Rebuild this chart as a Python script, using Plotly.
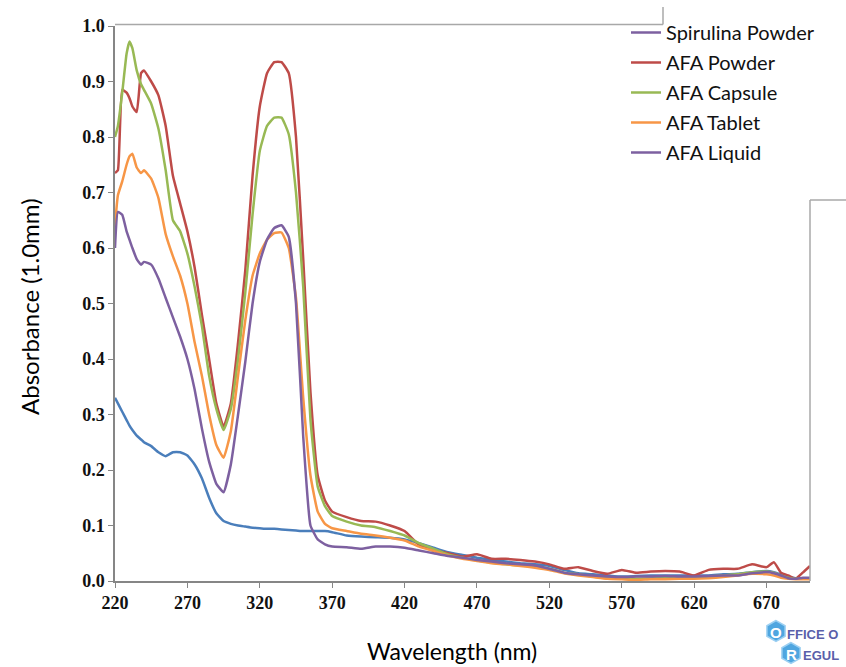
import plotly.graph_objects as go

wavelength = [220, 222, 225, 228, 230, 232, 235, 238, 240,
              245, 250, 255, 260, 265, 270, 275, 280, 285, 290, 295, 300,
              305, 310, 315, 320, 325, 330, 335, 340, 345, 350, 355, 360, 365, 370,
              380, 390, 400, 410, 420, 430, 440, 450, 460, 470, 480, 490, 500,
              510, 520, 530, 540, 550, 560, 570, 580, 590, 600, 610, 620, 630,
              640, 650, 660, 670, 675, 680, 685, 690, 695, 700]

spirulina_powder = [0.33, 0.32, 0.305, 0.29, 0.28, 0.272, 0.262, 0.255, 0.25,
                    0.243, 0.232, 0.225, 0.232, 0.232, 0.226, 0.21, 0.185, 0.15, 0.122, 0.108, 0.103,
                    0.1, 0.098, 0.096, 0.095, 0.094, 0.094, 0.093, 0.092, 0.091, 0.09, 0.09, 0.09, 0.09, 0.088,
                    0.082, 0.08, 0.079, 0.078, 0.075, 0.068, 0.06, 0.052, 0.047, 0.042, 0.038, 0.035, 0.032,
                    0.03, 0.027, 0.02, 0.014, 0.012, 0.01, 0.008, 0.009, 0.01, 0.01, 0.01, 0.01, 0.01,
                    0.012, 0.013, 0.016, 0.018, 0.016, 0.012, 0.008, 0.005, 0.005, 0.005]

afa_powder = [0.735, 0.74, 0.885, 0.88, 0.87, 0.855, 0.845, 0.915, 0.92,
              0.90, 0.875, 0.82, 0.73, 0.68, 0.63, 0.565, 0.48, 0.40, 0.32, 0.278, 0.32,
              0.43, 0.56, 0.73, 0.855, 0.915, 0.935, 0.935, 0.915, 0.80, 0.58, 0.34, 0.19, 0.145, 0.125,
              0.115, 0.108, 0.107, 0.10, 0.09, 0.065, 0.056, 0.05, 0.044, 0.048, 0.04, 0.04, 0.038,
              0.035, 0.03, 0.022, 0.025, 0.018, 0.013, 0.02, 0.015, 0.017, 0.018, 0.017, 0.01, 0.02,
              0.022, 0.022, 0.03, 0.025, 0.034, 0.015, 0.01, 0.004, 0.015, 0.027]

afa_capsule = [0.80, 0.82, 0.88, 0.95, 0.972, 0.96, 0.92, 0.895, 0.885,
               0.86, 0.815, 0.74, 0.65, 0.63, 0.59, 0.53, 0.46, 0.37, 0.31, 0.272, 0.31,
               0.40, 0.52, 0.66, 0.775, 0.82, 0.835, 0.835, 0.805, 0.70, 0.53, 0.29, 0.17, 0.135, 0.117,
               0.107, 0.10, 0.097, 0.09, 0.082, 0.068, 0.058, 0.048, 0.042, 0.037, 0.033, 0.03, 0.028,
               0.026, 0.022, 0.015, 0.012, 0.008, 0.005, 0.004, 0.004, 0.005, 0.006, 0.006, 0.006, 0.008,
               0.01, 0.012, 0.016, 0.017, 0.015, 0.01, 0.006, 0.004, 0.004, 0.004]

afa_tablet = [0.64, 0.695, 0.72, 0.75, 0.765, 0.77, 0.745, 0.735, 0.74,
              0.725, 0.69, 0.625, 0.585, 0.55, 0.50, 0.43, 0.37, 0.30, 0.245, 0.222, 0.27,
              0.37, 0.47, 0.55, 0.59, 0.615, 0.627, 0.628, 0.60, 0.51, 0.33, 0.19, 0.125, 0.103, 0.095,
              0.09, 0.085, 0.082, 0.078, 0.073, 0.062, 0.054, 0.046, 0.04, 0.036, 0.032, 0.03, 0.027,
              0.024, 0.02, 0.014, 0.01, 0.007, 0.004, 0.003, 0.002, 0.003, 0.003, 0.004, 0.004, 0.005,
              0.007, 0.01, 0.013, 0.012, 0.01, 0.006, 0.004, 0.003, 0.003, 0.003]

afa_liquid = [0.60, 0.665, 0.66, 0.63, 0.615, 0.60, 0.58, 0.57, 0.575,
              0.57, 0.545, 0.51, 0.475, 0.44, 0.40, 0.345, 0.275, 0.215, 0.175, 0.16, 0.21,
              0.30, 0.395, 0.50, 0.575, 0.615, 0.636, 0.641, 0.62, 0.50, 0.26, 0.10, 0.075, 0.066, 0.062,
              0.061, 0.058, 0.062, 0.062, 0.06, 0.055, 0.05, 0.045, 0.042, 0.038, 0.035, 0.032, 0.03,
              0.028, 0.022, 0.015, 0.012, 0.01, 0.008, 0.007, 0.008, 0.008, 0.009, 0.008, 0.008, 0.009,
              0.01, 0.01, 0.014, 0.016, 0.014, 0.01, 0.005, 0.004, 0.006, 0.006]

series_names = ["Spirulina Powder", "AFA Powder", "AFA Capsule", "AFA Tablet", "AFA Liquid"]
series_values = [spirulina_powder, afa_powder, afa_capsule, afa_tablet, afa_liquid]
colors = ["#4A7EBB", "#BE4B48", "#98B954", "#F79646", "#7D60A0"]
legend_colors = ["#7D60A0", "#BE4B48", "#98B954", "#F79646", "#7D60A0"]

x_ticks = [220, 270, 320, 370, 420, 470, 520, 570, 620, 670]
y_ticks = [0.0, 0.1, 0.2, 0.3, 0.4, 0.5, 0.6, 0.7, 0.8, 0.9, 1.0]

W, H = 846, 667
L, R, T, B = 115, 36, 26, 86
PW, PH = W - L - R, H - T - B


def px(x):
    return (x - L) / PW


def py(y):
    return (H - B - y) / PH


fig = go.Figure()
for name, vals, col in zip(series_names, series_values, colors):
    fig.add_trace(go.Scatter(
        x=wavelength, y=vals, name=name, mode="lines",
        line=dict(color=col, width=2.5, shape="spline", smoothing=0.4),
        legendgroup=name, showlegend=False,
    ))
# legend entries (legend swatch colors as in the reference)
for name, col in zip(series_names, legend_colors):
    fig.add_trace(go.Scatter(
        x=[None], y=[None], name=name, mode="lines",
        line=dict(color=col, width=2.5), legendgroup=name,
    ))

shapes = []
# white legend box covering the frame in the upper right
shapes.append(dict(type="rect", xref="paper", yref="paper", x0=px(606), x1=px(846), y0=py(200), y1=py(0),
                   fillcolor="white", line=dict(width=0), layer="above"))
frame_col = "#A8A8A8"
shapes.append(dict(type="line", xref="paper", yref="paper", x0=px(115), x1=px(663), y0=py(24.5), y1=py(24.5),
                   line=dict(color=frame_col, width=1.5), layer="above"))
shapes.append(dict(type="line", xref="paper", yref="paper", x0=px(663), x1=px(663), y0=py(24.5), y1=py(7),
                   line=dict(color=frame_col, width=1.5), layer="above"))
shapes.append(dict(type="line", xref="paper", yref="paper", x0=px(810), x1=px(810), y0=py(200), y1=py(581),
                   line=dict(color=frame_col, width=1.5), layer="above"))
shapes.append(dict(type="line", xref="paper", yref="paper", x0=px(810), x1=px(846), y0=py(200), y1=py(200),
                   line=dict(color=frame_col, width=1.5), layer="above"))


def hexagon(cx, cy, r):
    import math
    pts = []
    for k in range(6):
        a = math.radians(90 + 60 * k)
        pts.append((px(cx + r * math.cos(a)), py(cy - r * math.sin(a))))
    return "M " + " L ".join(f"{a:.5f},{b:.5f}" for a, b in pts) + " Z"


shapes.append(dict(type="path", xref="paper", yref="paper", path=hexagon(776, 631, 10.5),
                   fillcolor="#4FA6E0", line=dict(color="#9DD0F2", width=1.5)))
shapes.append(dict(type="path", xref="paper", yref="paper", path=hexagon(791, 653, 10.5),
                   fillcolor="#4FA6E0", line=dict(color="#9DD0F2", width=1.5)))

annotations = [
    dict(text="Wavelength (nm)", x=px(452), y=py(651), xref="paper", yref="paper", showarrow=False,
         font=dict(family="Lato", size=23, color="#000000"), xanchor="center", yanchor="middle"),
    dict(text="Absorbance (1.0mm)", x=px(30), y=py(307), xref="paper", yref="paper", showarrow=False,
         textangle=-90, font=dict(family="Lato", size=24, color="#000000"), xanchor="center", yanchor="middle"),
    dict(text="<b>O</b>", x=px(776), y=py(632), xref="paper", yref="paper", showarrow=False,
         font=dict(family="Liberation Sans", size=15, color="white"), xanchor="center", yanchor="middle"),
    dict(text="<b>FFICE O</b>", x=px(785), y=py(634), xref="paper", yref="paper", showarrow=False,
         font=dict(family="Liberation Sans", size=13, color="#5A5FAA"), xanchor="left", yanchor="middle"),
    dict(text="<b>R</b>", x=px(791), y=py(654), xref="paper", yref="paper", showarrow=False,
         font=dict(family="Liberation Sans", size=15, color="white"), xanchor="center", yanchor="middle"),
    dict(text="<b>EGUL</b>", x=px(801), y=py(655), xref="paper", yref="paper", showarrow=False,
         font=dict(family="Liberation Sans", size=13, color="#5A5FAA"), xanchor="left", yanchor="middle"),
]

tick_font = dict(family="Liberation Serif", size=18, color="#111111")
fig.update_layout(
    width=W, height=H,
    margin=dict(l=L, r=R, t=T, b=B, autoexpand=False),
    paper_bgcolor="white", plot_bgcolor="white",
    xaxis=dict(range=[220, 700], tickvals=x_ticks, ticktext=[f"<b>{v}</b>" for v in x_ticks],
               showgrid=False, zeroline=False, showline=True, linecolor="#868686", linewidth=1.5,
               ticks="outside", ticklen=5, tickcolor="#868686", tickfont=tick_font),
    yaxis=dict(range=[0, 1.0], tickvals=y_ticks, ticktext=[f"<b>{v:.1f}</b>" for v in y_ticks],
               showgrid=False, zeroline=False, showline=True, linecolor="#868686", linewidth=1.5,
               ticks="outside", ticklen=5, tickcolor="#868686", tickfont=tick_font),
    showlegend=True,
    legend=dict(x=px(626), y=py(13), xref="paper", yref="paper", xanchor="left", yanchor="top",
                bgcolor="rgba(0,0,0,0)", font=dict(family="Lato", size=20, color="#111111"),
                itemwidth=30, tracegroupgap=1, traceorder="grouped"),
    shapes=shapes,
    annotations=annotations,
)

fig.write_html("out.html", config={"displayModeBar": False},
               post_script="document.body.style.margin='0';document.body.style.padding='0';")
